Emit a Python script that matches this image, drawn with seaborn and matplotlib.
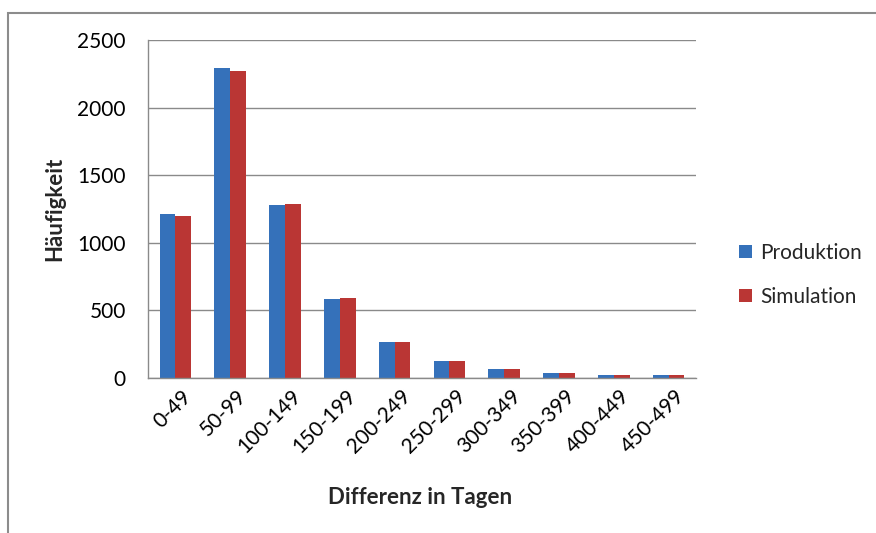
import pandas as pd
import seaborn as sns
import matplotlib.pyplot as plt
import matplotlib.transforms as mtransforms
from matplotlib.patches import Rectangle

# Data
categories = ['0-49', '50-99', '100-149', '150-199', '200-249',
              '250-299', '300-349', '350-399', '400-449', '450-499']
produktion = [1211, 2290, 1277, 582, 264, 123, 64, 37, 20, 20]
simulation = [1198, 2273, 1287, 592, 264, 123, 64, 37, 20, 20]

df = pd.DataFrame({
    'Kategorie': categories * 2,
    'Häufigkeit': produktion + simulation,
    'Serie': ['Produktion'] * len(categories) + ['Simulation'] * len(categories),
})

sns.set_style('white')
plt.rcParams['font.family'] = ['Lato', 'DejaVu Sans']

fig = plt.figure(figsize=(8.76, 5.33), dpi=100)
ax = fig.add_axes([148 / 876, 1 - 378 / 533, (696 - 148) / 876, (378 - 40) / 533])

# outer chart border
fig.patches.append(Rectangle((8 / 876, -0.05), 1.0, 1 - 13 / 533 + 0.05,
                             transform=fig.transFigure, fill=False,
                             edgecolor='#8c8c8c', linewidth=1.5))

sns.barplot(data=df, x='Kategorie', y='Häufigkeit', hue='Serie', ax=ax,
            palette=['#3571BA', '#BA3634'], width=0.58, saturation=1,
            linewidth=0)

ax.set_ylim(0, 2500)
ax.set_yticks(range(0, 2501, 500))
ax.yaxis.grid(True, color='#8a8a8a', linewidth=1)
ax.set_axisbelow(True)
for s in ['top', 'right']:
    ax.spines[s].set_visible(False)
for s in ['left', 'bottom']:
    ax.spines[s].set_color('#8a8a8a')
    ax.spines[s].set_linewidth(1)

ax.tick_params(axis='both', labelsize=15, colors='black', length=0)
ax.tick_params(axis='y', pad=16)
ax.tick_params(axis='x', pad=6)
shift = mtransforms.ScaledTranslation(6 / 100, 0, fig.dpi_scale_trans)
for lab in ax.get_xticklabels():
    lab.set_rotation(45)
    lab.set_ha('right')
    lab.set_rotation_mode('anchor')
    lab.set_transform(lab.get_transform() + shift)

ax.set_xlabel('Differenz in Tagen', fontsize=16, fontweight='bold')
ax.xaxis.set_label_coords(0.496, -0.322)
ax.set_ylabel('Häufigkeit', fontsize=16, fontweight='bold')
ax.yaxis.set_label_coords(-0.151, 0.5)

leg = ax.legend(loc='center left', bbox_to_anchor=(1.06, 0.305), frameon=False,
                fontsize=15, handlelength=0.6, handleheight=0.6,
                handletextpad=0.4, labelspacing=1.15, borderpad=0)

fig.savefig('out.png', dpi=100)
